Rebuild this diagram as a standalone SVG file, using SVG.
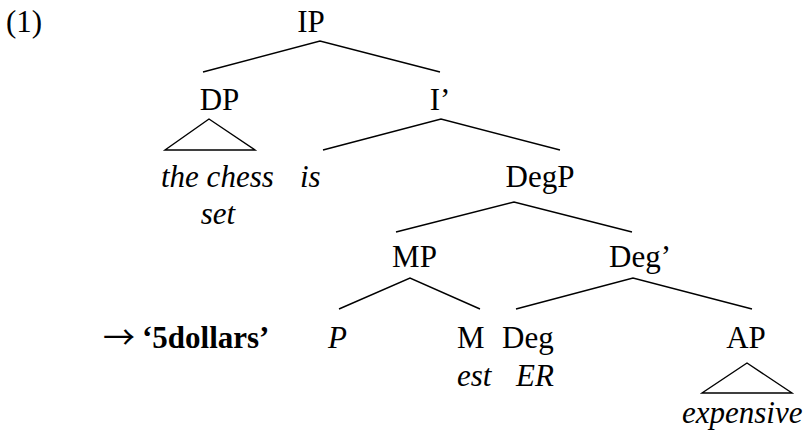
<svg xmlns="http://www.w3.org/2000/svg" width="804" height="436" viewBox="0 0 804 436">
<style>
text{font-family:"Liberation Serif","Times New Roman",serif;font-size:31px;fill:#000}
.i{font-style:italic}
.b{font-weight:bold}
.m{text-anchor:middle}
.ar{font-family:"Noto Sans CJK JP",serif;font-size:32px}
.e{stroke:#000;stroke-width:1.4;fill:none}
</style>
<rect width="804" height="436" fill="#fff"/>
<text x="6" y="32">(1)</text>
<g id="edges">
<polyline class="e" points="203,72 320,41 440,72"/>
<polygon class="e" points="209,119 165,150 255,150"/>
<polyline class="e" points="323,150 441,119 560,150"/>
<polyline class="e" points="396,232 514,202 632,232"/>
<polyline class="e" points="339,309 410,278 480,309"/>
<polyline class="e" points="516,309 633,278 752,309"/>
<polygon class="e" points="747,363 702,393 792,393"/>
</g>
<g id="IP"><text class="m" x="311" y="32">IP</text></g>
<g id="DP"><text class="m" x="219.5" y="110">DP</text></g>
<g id="Ibar"><text class="m" x="440" y="110">I’</text></g>
<g id="the-chess-set"><text class="i" x="161" y="187">the chess</text><text class="i m" x="218" y="224">set</text></g>
<g id="is"><text class="i" x="300" y="187">is</text></g>
<g id="DegP"><text class="m" x="540" y="187">DegP</text></g>
<g id="MP"><text class="m" x="414.5" y="267">MP</text></g>
<g id="Degbar"><text x="609" y="267">Deg’</text></g>
<g id="arrow-5dollars"><text class="ar" x="103" y="349">→</text><text class="b" x="142" y="348">‘5dollars’</text></g>
<g id="P"><text class="i" x="328" y="348">P</text></g>
<g id="M"><text x="457" y="348">M</text><text class="i" x="457" y="386">est</text></g>
<g id="Deg"><text x="502" y="348">Deg</text><text class="i" x="516" y="386">ER</text></g>
<g id="AP"><text class="m" x="746" y="348">AP</text></g>
<g id="expensive"><text class="i" x="682" y="423">expensive</text></g>
</svg>
